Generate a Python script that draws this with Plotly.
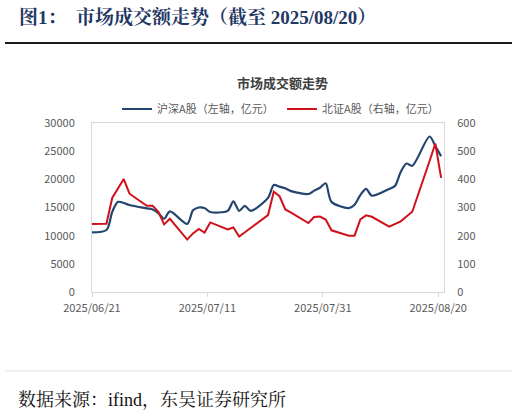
import pandas as pd
import plotly.graph_objects as go

# ---- data (亿元) ----
dates = ["2025-06-20", "2025-06-23", "2025-06-24", "2025-06-25", "2025-06-26", "2025-06-27",
         "2025-06-30", "2025-07-01", "2025-07-02", "2025-07-03", "2025-07-04",
         "2025-07-07", "2025-07-08", "2025-07-09", "2025-07-10", "2025-07-11",
         "2025-07-14", "2025-07-15", "2025-07-16", "2025-07-17", "2025-07-18",
         "2025-07-21", "2025-07-22", "2025-07-23", "2025-07-24", "2025-07-25",
         "2025-07-28", "2025-07-29", "2025-07-30", "2025-07-31", "2025-08-01",
         "2025-08-04", "2025-08-05", "2025-08-06", "2025-08-07", "2025-08-08",
         "2025-08-11", "2025-08-12", "2025-08-13", "2025-08-14", "2025-08-15",
         "2025-08-18", "2025-08-19", "2025-08-20"]

hs_a = [10600, 11000, 14200, 16000, 15800, 15440,
        14840, 14660, 14020, 13000, 14300,
        12100, 14500, 15000, 14900, 14200,
        14400, 16100, 14400, 15300, 14400,
        16700, 19000, 18700, 18400, 17900,
        17400, 18000, 18500, 19300, 16000,
        14900, 15500, 17200, 18300, 17100,
        18300, 18800, 21300, 22800, 22400,
        27600, 25900, 24100]

bz_a = [241, 242, 334, 368, 401, 349,
        306, 306, 285, 240, 260,
        186, 208, 224, 211, 247,
        222, 229, 197, 212, 228,
        273, 356, 340, 293, 282,
        245, 266, 268, 257, 219,
        200, 200, 258, 272, 267,
        232, 241, 251, 268, 285,
        465, 527, 405]

tick_dates = ["2025-06-21", "2025-07-11", "2025-07-31", "2025-08-20"]
tick_text = ["2025/06/21", "2025/07/11", "2025/07/31", "2025/08/20"]
left_ticks = [0, 5000, 10000, 15000, 20000, 25000, 30000]
right_ticks = [0, 100, 200, 300, 400, 500, 600]

name_hs = "沪深A股（左轴，亿元）"
name_bz = "北证A股（右轴，亿元）"
header = "图1：  市场成交额走势（截至 2025/08/20）"
chart_title = "市场成交额走势"
footer = "数据来源：ifind，东吴证券研究所"

# ---- layout geometry (pixels) ----
W, H = 518, 416
PL, PR, PT, PB = 92, 444, 123, 292


def px(x):
    return (x - PL) / (PR - PL)


def py(y):
    return (PB - y) / (PB - PT)


# each trading day drawn at the middle of its date slot
x_vals = pd.to_datetime(dates) + pd.Timedelta(hours=12)

SANS = "Noto Sans CJK SC, Noto Sans, sans-serif"
SERIF = "Liberation Serif, Noto Serif CJK SC, Noto Sans CJK SC, serif"
AX = "#d9d9d9"
TXT = "#595959"

fig = go.Figure()
fig.add_trace(go.Scatter(x=x_vals, y=hs_a, name=name_hs, mode="lines",
                         line=dict(color="#23456f", width=2.2, shape="spline", smoothing=0.8),
                         yaxis="y"))
fig.add_trace(go.Scatter(x=x_vals, y=bz_a, name=name_bz, mode="lines",
                         line=dict(color="#d0101b", width=2),
                         yaxis="y2"))

fig.update_layout(
    width=W, height=H, autosize=False,
    margin=dict(l=PL, r=W - PR, t=PT, b=H - PB, pad=0),
    paper_bgcolor="white", plot_bgcolor="white",
    font=dict(family=SANS, size=11, color=TXT),
    showlegend=True,
    legend=dict(orientation="h", x=px(117), y=py(109), xanchor="left", yanchor="middle",
                font=dict(family=SANS, size=11, color=TXT),
                itemwidth=30, entrywidth=120, entrywidthmode="pixels",
                bgcolor="rgba(0,0,0,0)", tracegroupgap=0),
    xaxis=dict(type="date", range=["2025-06-21", "2025-08-21"],
               tickvals=tick_dates, ticktext=tick_text,
               showgrid=False, zeroline=False,
               showline=True, linecolor=AX, linewidth=1, mirror=True,
               ticks="outside", ticklen=4, tickcolor=AX, ticklabelstandoff=2,
               tickfont=dict(family=SANS, size=11, color=TXT)),
    yaxis=dict(range=[0, 30000], tickvals=left_ticks, ticktext=[str(v) for v in left_ticks],
               showgrid=False, zeroline=False,
               showline=True, linecolor=AX, linewidth=1, ticks="", ticklabelstandoff=14,
               tickfont=dict(family=SANS, size=11, color=TXT)),
    yaxis2=dict(range=[0, 600], tickvals=right_ticks, ticktext=[str(v) for v in right_ticks],
                overlaying="y", side="right",
                showgrid=False, zeroline=False,
                showline=True, linecolor=AX, linewidth=1, ticks="", ticklabelstandoff=10,
                tickfont=dict(family=SANS, size=11, color=TXT)),
)

fig.add_annotation(text="<b>" + chart_title + "</b>", x=px(282), y=py(83), xref="paper", yref="paper",
                   showarrow=False, xanchor="center", yanchor="middle",
                   font=dict(family=SANS, size=13, color="#404040"))
fig.add_annotation(text="<b>" + header + "</b>", x=px(17), y=py(18), xref="paper", yref="paper",
                   showarrow=False, xanchor="left", yanchor="middle",
                   font=dict(family=SERIF, size=19, color="#1f3864"))
fig.add_annotation(text=footer, x=px(16), y=py(400), xref="paper", yref="paper",
                   showarrow=False, xanchor="left", yanchor="middle",
                   font=dict(family=SERIF, size=18, color="#111111"))

fig.add_shape(type="line", xref="paper", yref="paper", x0=px(5), x1=px(512), y0=py(43), y1=py(43),
              line=dict(color="#1a1a1a", width=2))
fig.add_shape(type="line", xref="paper", yref="paper", x0=px(5), x1=px(512), y0=py(371), y1=py(371),
              line=dict(color="#e0e0e0", width=1))

fig.write_html("out.html", config={"displayModeBar": False},
               post_script="document.body.style.margin='0';")
